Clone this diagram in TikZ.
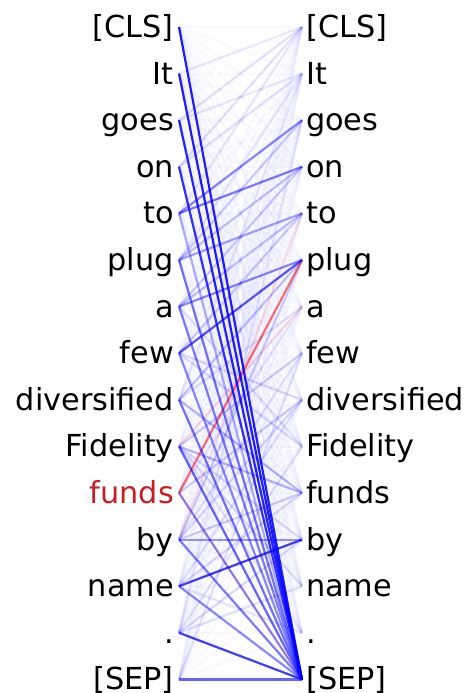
\documentclass[tikz,border=0pt]{standalone}
\usepackage{fontspec}
\setmainfont{DejaVu Sans}
\definecolor{attblue}{RGB}{0,0,255}
\definecolor{attred}{RGB}{255,20,20}
\definecolor{tokred}{RGB}{200,30,35}
\begin{document}
\begin{tikzpicture}[x=1pt,y=1pt,
  tok/.style={inner sep=0pt,font=\fontsize{30.3}{32}\selectfont,text=black},
  ltok/.style={tok,anchor=base east},
  rtok/.style={tok,anchor=base west},
  att/.style={line width=2.2pt,draw=attblue},
  attr/.style={line width=2.2pt,draw=attred}]
\useasboundingbox (0,0) rectangle (470,-693);
% endpoints and tokens
\foreach \i/\t in {0/{[CLS]},1/It,2/goes,3/on,4/to,5/plug,6/a,7/few,8/diversified,9/Fidelity,10/funds,11/by,12/name,13/.,14/{[SEP]}}{
  \pgfmathsetmacro{\yy}{-(27+46.6*\i)}
  \coordinate (a\i) at (179,\yy);
  \coordinate (b\i) at (302,\yy);
  \ifnum\i=10
    \node[ltok,text=tokred] (l\i) at (174,\yy-10.5) {\t};
  \else
    \node[ltok] (l\i) at (174,\yy-10.5) {\t};
  \fi
  \node[rtok] (r\i) at (306,\yy-10.5) {\t};
}
% faint background haze
\foreach \i in {0,...,14}{
  \foreach \j in {0,...,14}{
    \draw[att,draw opacity=0.025] (a\i) -- (b\j);
  }
}
% lighter attention
\foreach \i/\j/\o in {2/0/0.1,3/0/0.1,1/0/0.07,3/1/0.1,2/1/0.08,5/3/0.22,6/3/0.18,6/4/0.22,7/4/0.18,8/5/0.22,8/6/0.1,9/7/0.18,8/10/0.28,9/10/0.28,10/8/0.18,11/8/0.13,9/12/0.13,13/2/0.08,8/1/0.07,5/1/0.08,4/0/0.08,9/13/0.08,11/5/0.18,10/6/0.08,13/12/0.1,13/9/0.1,12/10/0.13,5/2/0.18,14/7/0.1,13/11/0.13,11/7/0.1,12/8/0.1,9/11/0.13,7/9/0.13,6/9/0.1,7/8/0.13,11/10/0.18,12/13/0.08}{
  \draw[att,draw opacity=\o] (a\i) -- (b\j);
}
% red attention
\draw[attr,draw opacity=0.6] (a10) -- (b5);
\draw[attr,draw opacity=0.25,line width=1.5pt] (a10) -- (b14);
\draw[attr,draw opacity=0.15] (a9) -- (b6);
\draw[attr,draw opacity=0.12] (a11) -- (b4);
% strong attention
\foreach \i/\j/\o in {4/14/0.3,5/14/0.55,6/14/0.5,7/14/0.45,8/14/0.55,9/14/0.6,10/14/0.4,11/14/0.5,12/14/0.45,14/14/0.6,4/2/0.45,4/3/0.5,5/4/0.35,6/5/0.45,7/5/0.65,11/11/0.4,12/11/0.75,13/14/0.75,3/14/0.8,2/14/0.85,1/14/0.88,0/14/0.88}{
  \draw[att,draw opacity=\o] (a\i) -- (b\j);
}
\end{tikzpicture}
\end{document}
